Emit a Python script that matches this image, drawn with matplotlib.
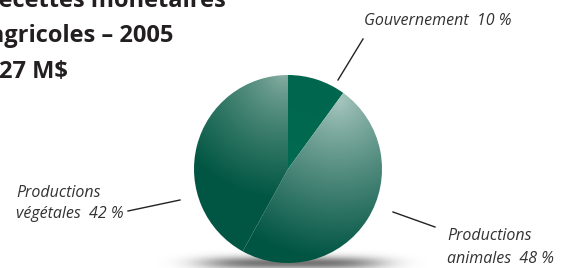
import matplotlib.pyplot as plt
import numpy as np

W, H = 562, 268

labels = ['Gouvernement', 'Productions animales', 'Productions végétales']
shares = [10, 48, 42]
label_texts = ['Gouvernement  10 %', 'Productions\nanimales  48 %', 'Productions\nvégétales  42 %']
title_lines = ['Recettes monétaires', 'agricoles – 2005', '27 M$']

fig = plt.figure(figsize=(5.62, 2.68), dpi=100)
ax = fig.add_axes([0, 0, 1, 1])

cx, cy, r = 288, 169, 94

X, Y = np.meshgrid(np.arange(W) + 0.5, np.arange(H) + 0.5)

# soft shadow under the pie
sh = np.zeros((H, W, 4))
sh[..., :3] = 0.22
sh[..., 3] = 0.7 * np.exp(-((X - 292) / 90) ** 4) * np.exp(-((Y - 263) / 6.5) ** 2)
ax.imshow(sh, extent=(0, W, H, 0), zorder=1, interpolation='bilinear')

wedges, _ = ax.pie(shares, center=(cx, cy), radius=r, startangle=-90,
                   counterclock=True, frame=True,
                   wedgeprops=dict(linewidth=0, edgecolor='none'))
ax.set_xlim(0, W)
ax.set_ylim(H, 0)  # pixel coords, y going down
ax.set_aspect('equal')
ax.axis('off')


def shade(light, dark, px, py, scale, gamma=0.9):
    light = np.array(light) / 255.0
    dark = np.array(dark) / 255.0
    t = np.clip(np.hypot(X - px, Y - py) / scale, 0, 1) ** gamma
    return light[None, None, :] * (1 - t[..., None]) + dark[None, None, :] * t[..., None]


fills = [
    shade((0, 106, 80), (0, 100, 76), cx, cy, 200),
    shade((170, 200, 192), (0, 84, 66), 338, 100, 160, 0.85),
    shade((140, 178, 166), (0, 86, 66), 284, 74, 125, 0.75),
]

for w, img in zip(wedges, fills):
    w.set_facecolor('none')
    im = ax.imshow(img, extent=(0, W, H, 0), zorder=3, interpolation='bilinear')
    im.set_clip_path(w)

# title (cut off at the top-left edge, as in the source)
tfont = dict(family='Open Sans', weight='bold', fontsize=17, color='#231f20', va='baseline')
ax.text(226, 7, title_lines[0], ha='right', **tfont)
ax.text(173, 42, title_lines[1], ha='right', **tfont)
ax.text(68, 78, title_lines[2], ha='right', **tfont)

lfont = dict(family='Open Sans', style='italic', fontsize=11.5, color='#333333', va='baseline')
anim = label_texts[1].split('\n')
veg = label_texts[2].split('\n')
ax.text(512, 25, label_texts[0], ha='right', **lfont)
ax.text(447, 240, anim[0], ha='left', **lfont)
ax.text(447, 263, anim[1], ha='left', **lfont)
ax.text(16, 197, veg[0], ha='left', **lfont)
ax.text(16, 218, veg[1], ha='left', **lfont)

# leader lines
ax.plot([363, 338], [39, 80], color='#222222', lw=1, zorder=4)
ax.plot([393, 435], [212, 227], color='#222222', lw=1, zorder=4)
ax.plot([128, 180], [211, 200], color='#222222', lw=1, zorder=4)

fig.savefig('out.png', dpi=100, facecolor='white')
